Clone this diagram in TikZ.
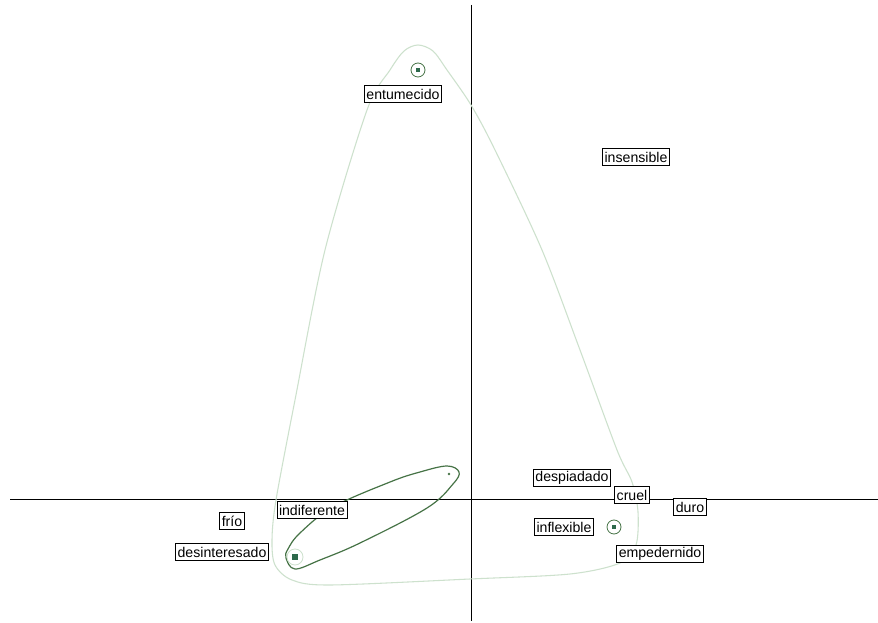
\documentclass[tikz,border=0pt]{standalone}
\usepackage{fontspec}
\setmainfont{Liberation Sans}
\usetikzlibrary{positioning}
\usetikzlibrary{calc}
\definecolor{hullgreen}{RGB}{205,225,205}
\definecolor{darkgreen}{RGB}{70,115,70}
\definecolor{pointgreen}{RGB}{45,105,75}
\tikzstyle{word}=[draw=black,fill=white,line width=0.75pt,inner xsep=1.5pt,inner ysep=0pt,minimum height=12.5pt,font=\fontsize{10.6}{12}\selectfont]
\tikzstyle{marker}=[circle,draw=darkgreen,line width=0.6pt,fill=white,minimum size=10.5pt,inner sep=0pt]
\tikzstyle{dot}=[rectangle,fill=pointgreen,minimum size=3.2pt,inner sep=0pt]

\begin{document}
\begin{tikzpicture}[x=0.75pt,y=-0.75pt]

   \useasboundingbox[fill=white] (0,0) rectangle (878,623);

   % axes
   \coordinate (top) at (471,5);
   \coordinate (bottom) at (471,621);
   \coordinate (left) at (10,499);
   \coordinate (right) at (878,499);
   \draw[line width=0.75pt] (top) -- (bottom);
   \draw[line width=0.75pt] (left) -- (right);

   % outer hull
   \draw[hullgreen, line width=0.8pt] plot[smooth cycle, tension=0.5] coordinates {(418,45) (433,51) (447,70) (471,105) (495,150) (542,250) (580,350) (617,450) (632,482) (638,512) (636,545) (620,563) (570,574) (470,579) (330,585) (292,580) (275,565) (272,540) (276,500) (295,400) (325,250) (367,110) (390,70) (404,51)};

   % inner cluster
   \draw[darkgreen, line width=0.9pt] plot[smooth cycle, tension=0.6] coordinates {(459,472) (447,466) (420,472) (390,482) (333,507) (300,533) (288,549) (286,558) (295,569) (320,560) (360,543) (427,508) (453,484)};

   % points
   \node[marker] (m1) at (418,70) {};
   \node[dot] (d1) at (m1) {};
   \node[marker] (m2) at (614,527) {};
   \node[dot] (d2) at (m2) {};
   \node[circle,draw=hullgreen,line width=0.6pt,minimum size=12pt,inner sep=0pt] (m3) at (295,557) {};
   \node[dot,minimum size=4pt] (d3) at (m3) {};
   \node[circle,fill=darkgreen,minimum size=2.2pt,inner sep=0pt] (d4) at (449,474) {};

   \foreach \pos/\name/\txt in {{(403,94)/entumecido/entumecido}, {(636,157)/insensible/insensible}, {(572,478)/despiadado/despiadado}, {(632,495)/cruel/cruel}, {(690,507)/duro/duro}, {(564,527)/inflexible/inflexible}, {(660,554)/empedernido/empedernido}, {(312,510)/indiferente/indiferente}, {(232,521)/frio/frío}, {(222,552)/desinteresado/desinteresado}}
        \node[word] (\name) at \pos {\txt};

\end{tikzpicture}
\end{document}
